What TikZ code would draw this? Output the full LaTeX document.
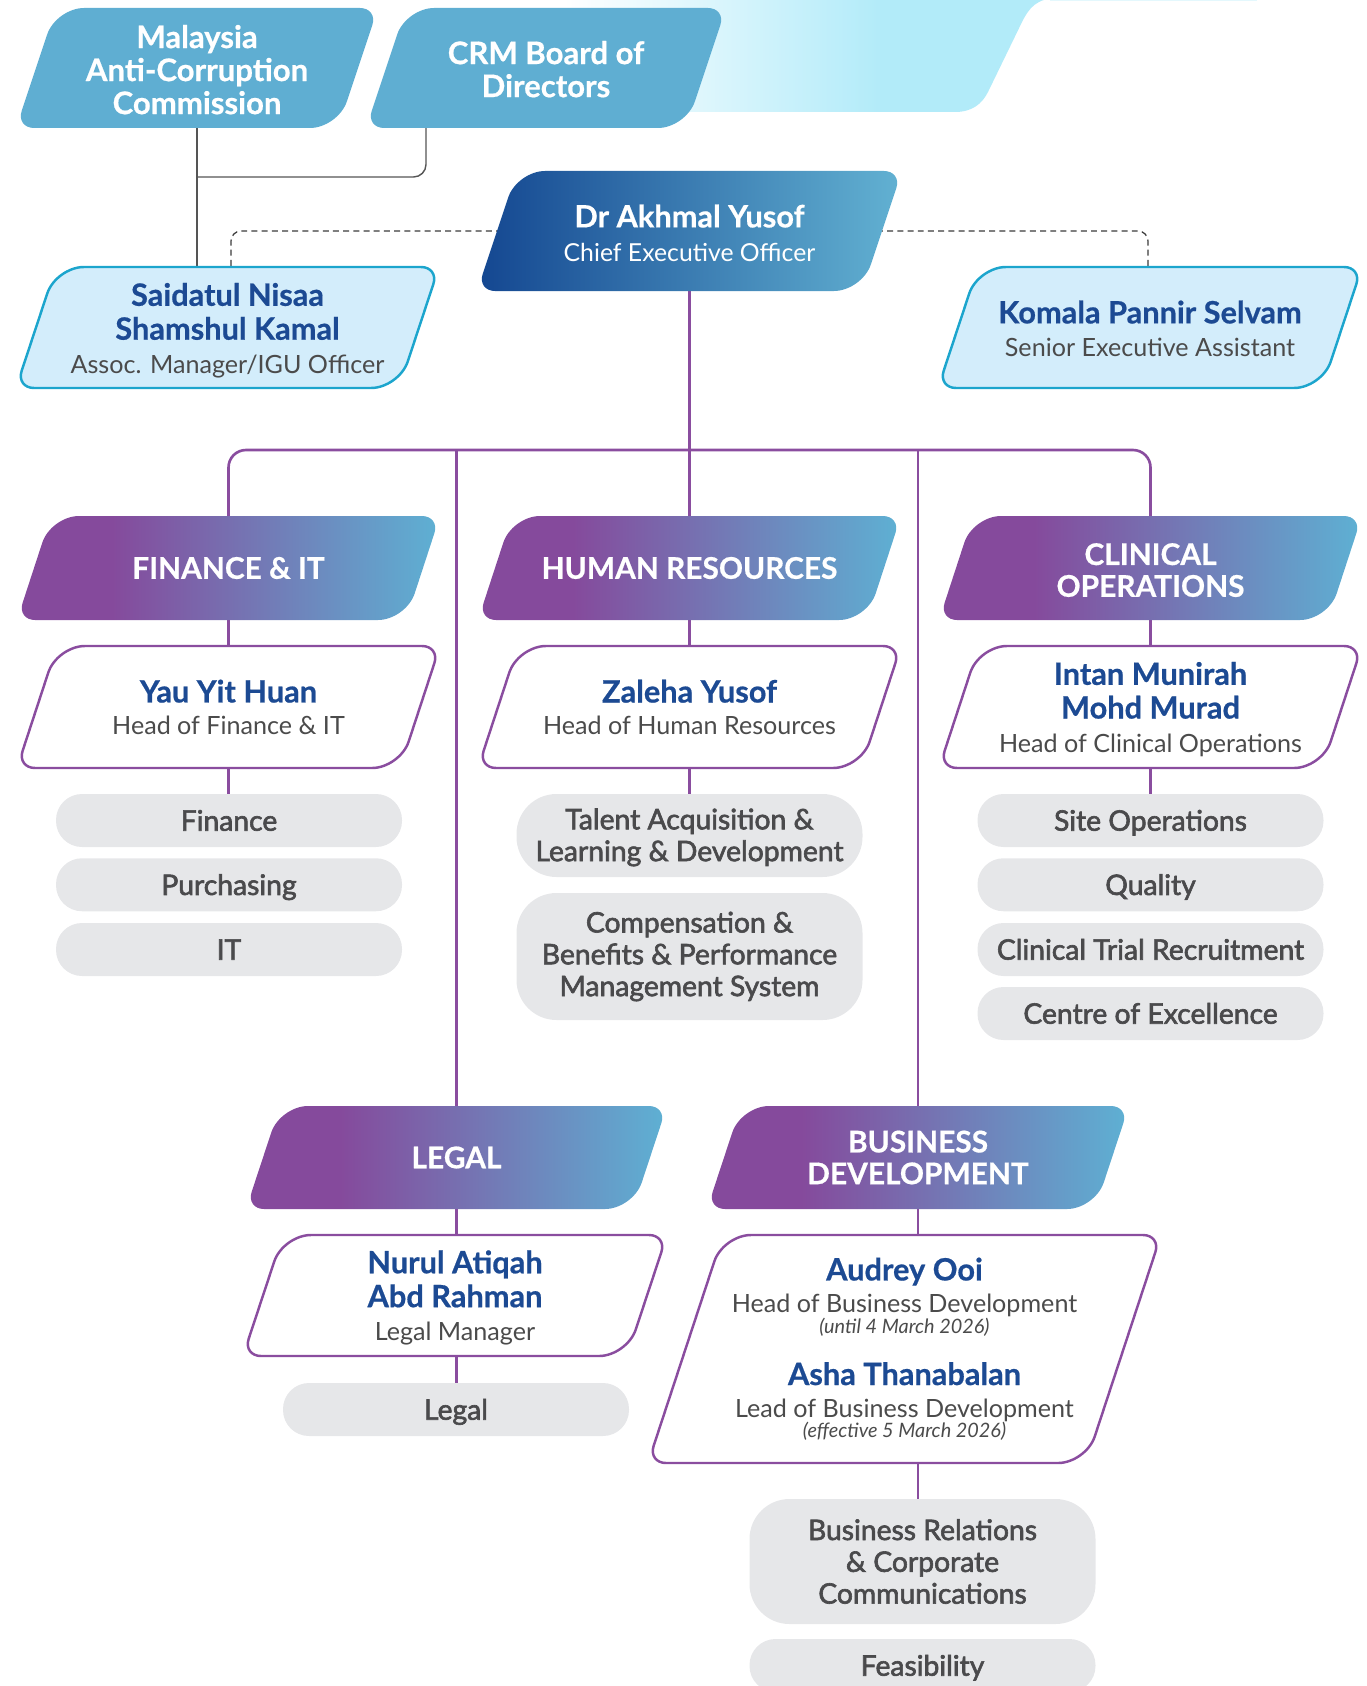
\documentclass[tikz,border=0pt]{standalone}
\usepackage{fontspec}
\setmainfont{Lato}
\newfontfamily\medfont{Lato}[FakeBold=2.2]
\newfontfamily\hvfont{Lato}[BoldFeatures={FakeBold=0.6}]
\usetikzlibrary{calc}
\definecolor{pline}{HTML}{8A4D9F}
\definecolor{dpur}{HTML}{854A9C}
\definecolor{dteal}{HTML}{5EB0D3}
\definecolor{nblue}{HTML}{1C4A93}
\definecolor{rgray}{HTML}{4B4B4B}
\definecolor{pillg}{HTML}{E6E7E9}
\definecolor{ptext}{HTML}{4A4A4C}
\definecolor{ceol}{HTML}{144791}
\definecolor{ceor}{HTML}{62B1D2}
\definecolor{topblue}{HTML}{5FAED2}
\definecolor{lblue}{HTML}{D3EDFB}
\definecolor{lborder}{HTML}{1CA5CD}
\definecolor{decocyan}{HTML}{B2EBF9}
\definecolor{cgray}{HTML}{555555}
\definecolor{dgray}{HTML}{3A3A3A}

\pgfdeclarehorizontalshading{deptshade}{100bp}{color(0bp)=(dpur); color(36bp)=(dpur); color(75bp)=(dteal); color(100bp)=(dteal)}
\pgfdeclarehorizontalshading{decoshade}{100bp}{color(0bp)=(white); color(33bp)=(white); color(60bp)=(decocyan); color(100bp)=(decocyan)}

\pgfdeclarelayer{lines}
\pgfdeclarelayer{shapes}
\pgfsetlayers{lines,shapes,main}

\newcommand\rac{0.36cm}
\newcommand\rob{0.56cm}
\newcommand\pshape[3]{%
  \coordinate (pBL) at ($(#2.south west)+(-3,0)$);
  \coordinate (pTR) at ($(#2.north east)+(3,0)$);
  \coordinate (pTL) at ($(#2.north west)+(#3-3,0)$);
  \coordinate (pBR) at ($(#2.south east)-(#3-3,0)$);
  \coordinate (qt1) at ($(pTL)!\rob!(pBL)$);
  \coordinate (qt2) at ($(pTL)!\rob!(pTR)$);
  \coordinate (qr1) at ($(pTR)!\rac!(pTL)$);
  \coordinate (qr2) at ($(pTR)!\rac!(pBR)$);
  \coordinate (qb1) at ($(pBR)!\rob!(pTR)$);
  \coordinate (qb2) at ($(pBR)!\rob!(pBL)$);
  \coordinate (ql1) at ($(pBL)!\rac!(pBR)$);
  \coordinate (ql2) at ($(pBL)!\rac!(pTL)$);
  \path[#1] (ql2) -- (qt1) .. controls ($(qt1)!0.55!(pTL)$) and ($(qt2)!0.55!(pTL)$) .. (qt2)
    -- (qr1) .. controls ($(qr1)!0.55!(pTR)$) and ($(qr2)!0.55!(pTR)$) .. (qr2)
    -- (qb1) .. controls ($(qb1)!0.55!(pBR)$) and ($(qb2)!0.55!(pBR)$) .. (qb2)
    -- (ql1) .. controls ($(ql1)!0.55!(pBL)$) and ($(ql2)!0.55!(pBL)$) .. (ql2) -- cycle;
}

\newcommand\nameF{\hvfont\bfseries\fontsize{17.5}{18}\selectfont\color{nblue}}
\newcommand\roleF{\fontsize{14.3}{18}\selectfont\color{rgray}}
\newcommand\dateF{\itshape\fontsize{11.3}{12}\selectfont\color{rgray}}
\newcommand\deptF{\hvfont\bfseries\fontsize{17}{18.1}\selectfont\color{white}}
\newcommand\lift[1]{\rule{0pt}{#1}}

\tikzset{
  base/.style={inner sep=0pt, outer sep=0pt, align=center, font=\fontsize{14.3}{18}\selectfont},
  sz/.style 2 args={minimum width=#1*0.02cm, minimum height=#2*0.02cm},
  topbox/.style={base, font=\hvfont\bfseries\fontsize{17.7}{18.8}\selectfont, text=white},
  pill/.style={fill=pillg, rounded corners=0.52cm, inner sep=0pt, outer sep=0pt, align=center,
    minimum width=346*0.02cm, text=ptext, font=\medfont\fontsize{16.1}{18.1}\selectfont},
  pl1/.style={minimum height=53*0.02cm, text height=11.6pt, text depth=0pt},
  plm/.style={rounded corners=0.8cm, minimum height=#1*0.02cm},
  conn/.style={draw=pline, line width=1.5pt},
  gconn/.style={draw=cgray, line width=0.8pt},
  dconn/.style={draw=dgray, line width=0.7pt, dash pattern=on 3.4pt off 2.4pt},
  dshape/.style={shade, shading=deptshade},
  pshapestyle/.style={fill=white, draw=pline, line width=1.4pt},
  lshapestyle/.style={fill=lblue, draw=lborder, line width=1.4pt},
}

\begin{document}
\begin{tikzpicture}[x=0.02cm,y=-0.02cm]
\useasboundingbox (0,0) rectangle (1366,1686);
\clip (0,0) rectangle (1366,1686);

% ---------- top ----------
\node[topbox, sz={356}{120}] (macc) at (197,68) {\lift{15pt}Malaysia\\Anti-Corruption\\Commission};
\node[topbox, sz={354}{120}] (crm) at (546,68) {\lift{14.5pt}CRM Board of\\Directors};
\node[base, sz={419}{120}, text=white] (ceo) at (689.5,231)
  {{\hvfont\bfseries\fontsize{17.5}{18}\selectfont\lift{15.2pt}Dr Akhmal Yusof}\\[1.2pt]{\fontsize{14.1}{18}\selectfont Chief Executive Officer}};
\node[base, sz={417}{121}] (said) at (227.5,327.5)
  {{\nameF\lift{16.4pt}Saidatul Nisaa}\\[1.3pt]{\nameF Shamshul Kamal}\\[1.2pt]{\roleF Assoc. Manager/IGU Officer}};
\node[base, sz={418}{121}] (kom) at (1150,327.5)
  {{\nameF\lift{14pt}Komala Pannir Selvam}\\[0.6pt]{\roleF Senior Executive Assistant}};

% ---------- departments row 1 ----------
\node[base, sz={417}{104}, font=\deptF] (fin) at (228.5,568) {FINANCE \& IT};
\node[base, sz={417}{104}, font=\deptF] (hr) at (689.5,568) {HUMAN RESOURCES};
\node[base, sz={417}{104}, font=\deptF] (clin) at (1150.5,568) {\lift{14.8pt}CLINICAL\\OPERATIONS};

\node[base, sz={417}{122}] (yau) at (228.5,707) {{\nameF Yau Yit Huan}\\{\roleF Head of Finance \& IT}};
\node[base, sz={417}{122}] (zal) at (689.5,707) {{\nameF Zaleha Yusof}\\{\roleF Head of Human Resources}};
\node[base, sz={417}{122}] (intan) at (1150.5,707)
  {{\nameF\lift{15.8pt}Intan Munirah}\\[1.2pt]{\nameF Mohd Murad}\\[1.4pt]{\roleF Head of Clinical Operations}};

\node[pill, pl1] (pf1) at (229,820.5) {Finance};
\node[pill, pl1] (pf2) at (229,884.75) {Purchasing};
\node[pill, pl1] (pf3) at (229,949.5) {IT};

\node[pill, plm=83] (ph1) at (689.5,835.5) {\lift{14pt}Talent Acquisition \&\\Learning \& Development};
\node[pill, plm=127] (ph2) at (689.5,956.5) {Compensation \&\\Benefits \& Performance\\Management System};

\node[pill, pl1] (pc1) at (1150.5,820.5) {Site Operations};
\node[pill, pl1] (pc2) at (1150.5,884.75) {Quality};
\node[pill, pl1] (pc3) at (1150.5,949.5) {Clinical Trial Recruitment};
\node[pill, pl1] (pc4) at (1150.5,1013.5) {Centre of Excellence};

% ---------- row 2 ----------
\node[base, sz={415}{103}, font=\deptF] (legal) at (456.5,1157.5) {LEGAL};
\node[base, sz={416}{103}, font=\deptF] (bd) at (918,1157.5) {BUSINESS\\DEVELOPMENT};

\node[base, sz={418}{121}] (nurul) at (455,1295.5)
  {{\nameF\lift{15.8pt}Nurul Atiqah}\\[1.3pt]{\nameF Abd Rahman}\\[1.2pt]{\roleF Legal Manager}};
\node[base, sz={507}{228}] (audrey) at (904.5,1349)
  {{\nameF Audrey Ooi}\\{\roleF Head of Business Development}\\[-6pt]{\dateF (until 4 March 2026)}\\[11.5pt]
   {\nameF Asha Thanabalan}\\[0.4pt]{\roleF Lead of Business Development}\\[-6.5pt]{\dateF (effective 5 March 2026)}};

\node[pill, pl1] (pl) at (456,1409.5) {Legal};
\node[pill, plm=125] (pb1) at (922.5,1561.5) {Business Relations\\\& Corporate\\Communications};
\node[pill, pl1] (pb2) at (922.5,1665.5) {Feasibility};

% ---------- shapes ----------
\begin{pgfonlayer}{shapes}
  \path[shade, shading=decoshade] (470,-2) -- (1058,-2) .. controls (1036,-2) and (1029,9) .. (1023,20)
     -- (988,92) .. controls (982,104) and (972,112) .. (955,112) -- (470,112) -- cycle;
  \fill[decocyan!35] (1050,-1) rectangle (1257,1.3);
  \pshape{fill=topblue}{macc}{40}
  \pshape{fill=topblue}{crm}{40}
  \pshape{left color=ceol, right color=ceor}{ceo}{40}
  \pshape{lshapestyle}{said}{40}
  \pshape{lshapestyle}{kom}{40}
  \pshape{dshape}{fin}{34}
  \pshape{dshape}{hr}{34}
  \pshape{dshape}{clin}{34}
  \pshape{pshapestyle}{yau}{40}
  \pshape{pshapestyle}{zal}{40}
  \pshape{pshapestyle}{intan}{40}
  \pshape{dshape}{legal}{34}
  \pshape{dshape}{bd}{34}
  \pshape{pshapestyle}{nurul}{40}
  \pshape{pshapestyle}{audrey}{75}
\end{pgfonlayer}

% ---------- connectors ----------
\begin{pgfonlayer}{lines}
  \draw[gconn] (macc.south) -- (macc.south |- said.north);
  \draw[gconn, rounded corners=0.25cm] ($(crm.south west)+(57,0)$) |- ($(macc.south)+(0,49)$);
  \draw[dconn, rounded corners=0.2cm] ($(ceo.west)+(22,0)$) -| ($(said.north)+(3.5,0)$);
  \draw[dconn, rounded corners=0.2cm] ($(ceo.east)-(22,0)$) -| ($(kom.north)+(-2,0)$);
  \coordinate (bar) at ($(ceo.south)+(0,159)$);
  \draw[conn] (ceo.south) -- (hr.north);
  \draw[conn, rounded corners=0.35cm] (fin.north) |- (bar) -| (clin.north);
  \draw[conn] (legal.north |- bar) -- (legal.north);
  \draw[conn] (bd.north |- bar) -- (bd.north);
  \draw[conn] (fin.south) -- (yau.north);
  \draw[conn] (yau.south) -- (yau.south |- pf1.north);
  \draw[conn] (hr.south) -- (zal.north);
  \draw[conn] (zal.south) -- (zal.south |- ph1.north);
  \draw[conn] (clin.south) -- (intan.north);
  \draw[conn] (intan.south) -- (intan.south |- pc1.north);
  \draw[conn] (legal.south) -- (legal.south |- nurul.north);
  \draw[conn] (nurul.south -| legal.south) -- (legal.south |- pl.north);
  \draw[conn] (bd.south) -- (bd.south |- audrey.north);
  \draw[conn] (audrey.south -| bd.south) -- (bd.south |- pb1.north);
\end{pgfonlayer}
\end{tikzpicture}
\end{document}
